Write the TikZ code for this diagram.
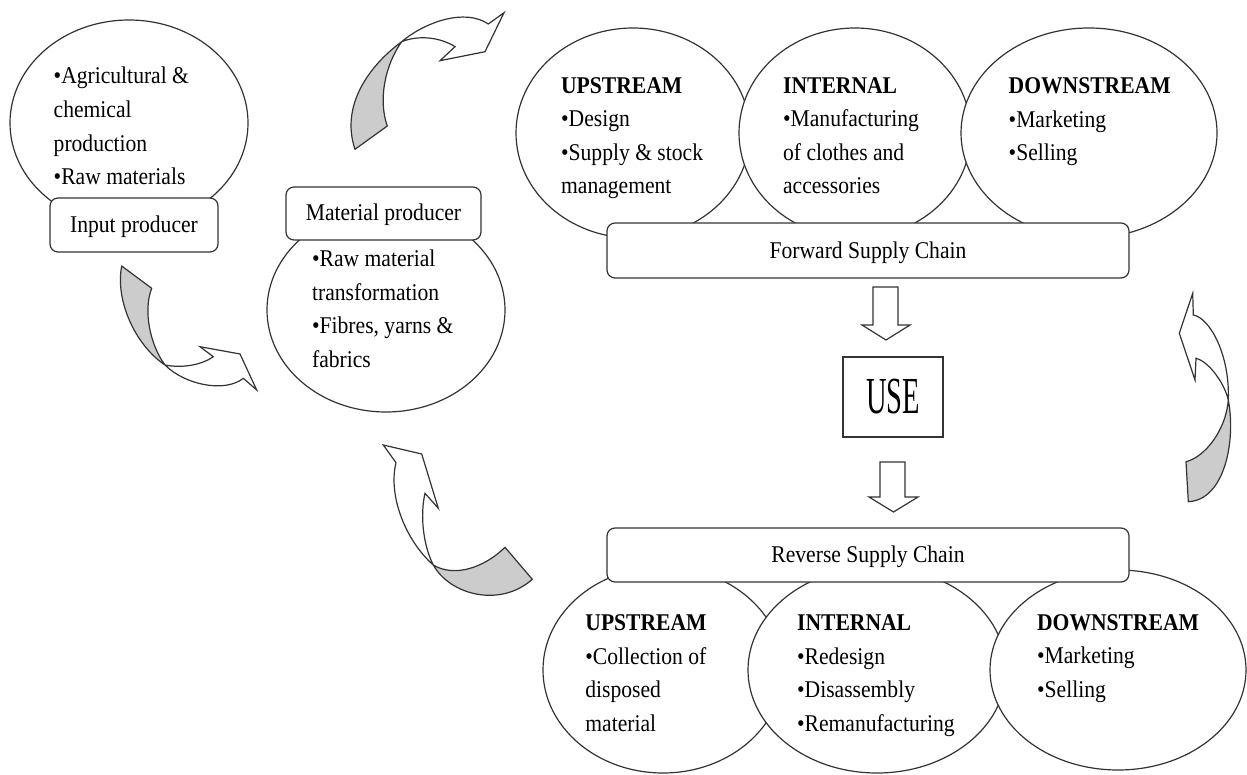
\documentclass[tikz,border=0pt]{standalone}
\usepackage{fontspec}
\setmainfont{Liberation Serif}[FakeStretch=0.9]
\usepackage{graphicx}
\usetikzlibrary{shapes.geometric}

\begin{document}
\begin{tikzpicture}[x=0.5pt,y=-0.5pt,
  oval/.style={ellipse,draw=black!80,fill=white,line width=0.6pt,inner sep=0pt},
  stagebox/.style={draw=black!80,fill=white,rounded corners=4pt,line width=0.6pt,inner sep=0pt,
    text height=8.5pt,text depth=1pt,font=\fontsize{12}{14}\selectfont},
  itemtext/.style={anchor=base west,align=left,inner sep=0pt,font=\fontsize{12}{16.75}\selectfont},
  flowarrow/.style={draw=black!80,fill=white,line width=0.6pt},
  twistback/.style={draw=black!80,fill=black!20,line width=0.6pt,line join=round},
  twistfront/.style={draw=black!80,fill=white,line width=0.6pt}]
\useasboundingbox (0,0) rectangle (1247,775);

\node[oval,minimum width=119pt,minimum height=103pt] (inoval) at (129,123) {};
\node[stagebox,minimum width=84pt,minimum height=27pt] (inbox) at (134,225) {Input producer};
\node[itemtext] (intext) at (53.3,184.5) {•Agricultural \&\\chemical\\production\\•Raw materials};

\node[oval,minimum width=119pt,minimum height=102pt] (matoval) at (386,310) {};
\node[stagebox,minimum width=97.5pt,minimum height=26.5pt] (matbox) at (383.5,213.5) {Material producer};
\node[itemtext] (mattext) at (311.7,367) {•Raw material\\transformation\\•Fibres, yarns \&\\fabrics};

\node[oval,minimum width=117pt,minimum height=105pt] (fwdup) at (633,133) {};
\node[oval,minimum width=116pt,minimum height=105pt] (fwdint) at (855,133) {};
\node[oval,minimum width=128pt,minimum height=105pt] (fwddown) at (1089,133) {};
\node[stagebox,minimum width=261pt,minimum height=27.5pt] (fwdbox) at (868,250.5) {Forward Supply Chain};
\node[itemtext] (fwduptext) at (560.7,194) {\textbf{UPSTREAM}\\•Design\\•Supply \& stock\\management};
\node[itemtext] (fwdinttext) at (782.7,194) {\textbf{INTERNAL}\\•Manufacturing\\of clothes and\\accessories};
\node[itemtext] (fwddowntext) at (1008.3,161) {\textbf{DOWNSTREAM}\\•Marketing\\•Selling};

\node[draw=black!80,line width=0.6pt,minimum width=50pt,minimum height=40pt,inner sep=0pt,
  font=\fontsize{26}{28}\selectfont] (use) at (893,397) {\scalebox{0.61}[1]{USE}};

\node[oval,minimum width=120pt,minimum height=103pt] (revup) at (663,670) {};
\node[oval,minimum width=129pt,minimum height=103pt] (revint) at (877,670) {};
\node[oval,minimum width=128pt,minimum height=100pt] (revdown) at (1118,670) {};
\node[stagebox,minimum width=261pt,minimum height=27pt] (revbox) at (868,555) {Reverse Supply Chain};
\node[itemtext] (revuptext) at (585,731) {\textbf{UPSTREAM}\\•Collection of\\disposed\\material};
\node[itemtext] (revinttext) at (796.7,731) {\textbf{INTERNAL}\\•Redesign\\•Disassembly\\•Remanufacturing};
\node[itemtext] (revdowntext) at (1036.7,697) {\textbf{DOWNSTREAM}\\•Marketing\\•Selling};

\draw[flowarrow] (873,287) -- (898,287) -- (898,325) -- (910,325) -- (886,340) -- (862,325) -- (873,325) -- cycle;
\draw[flowarrow] (880,462) -- (905,462) -- (905,497) -- (918,497) -- (893.5,512) -- (869,497) -- (880,497) -- cycle;

% input producer -> material producer
\draw[twistback] (121.7,266) .. controls (115,300) and (135,345) .. (165,365)
  .. controls (150,345) and (143,310) .. (151.7,288.3) -- cycle;
\draw[twistfront] (165,365) .. controls (185,385) and (225,393) .. (243.3,378.3)
  -- (256.7,390) -- (240,354) -- (200,346.7) -- (213.3,356.7)
  .. controls (200,366) and (180,368) .. (165,365);

% material producer -> forward chain
\draw[twistback] (355,149.3) .. controls (340,105) and (370,65) .. (401.7,41.7)
  .. controls (385,65) and (378,100) .. (387.3,126) -- cycle;
\draw[twistfront] (401.7,41.7) .. controls (425,22) and (465,8) .. (488.3,24)
  -- (504,12.7) -- (485,51.7) -- (440,60.7) -- (455,46.7)
  .. controls (440,37) and (418,35) .. (401.7,41.7);

% reverse chain -> forward chain
\draw[twistback] (1186,461.7) .. controls (1205,457) and (1226,430) .. (1228.3,400)
  .. controls (1236,440) and (1225,500) .. (1188.3,501.7) -- cycle;
\draw[twistfront] (1228.3,400) .. controls (1230,355) and (1210,318) .. (1193.3,315)
  -- (1192.7,293.3) -- (1179.3,333.3) -- (1195,380) -- (1196,358.3)
  .. controls (1210,362) and (1225,385) .. (1228.3,400);

% reverse chain -> material producer
\draw[twistback] (505,547.3) .. controls (485,567) and (455,578) .. (433.3,565)
  .. controls (450,595) and (500,608) .. (532.3,579.3) -- cycle;
\draw[twistfront] (433.3,565) .. controls (405,540) and (388,495) .. (396,462.7)
  -- (383.3,445) -- (421.7,454) -- (438.3,508.3) -- (425,493.3)
  .. controls (420,515) and (423,545) .. (433.3,565);
\end{tikzpicture}
\end{document}
